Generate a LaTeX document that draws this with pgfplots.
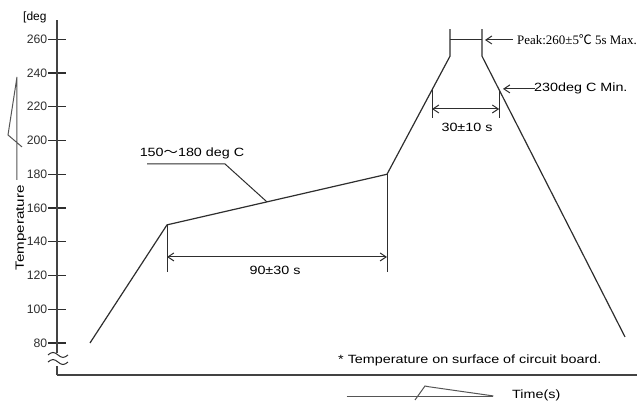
\documentclass[border=0pt]{standalone}
\usepackage{fontspec}
\setmainfont{Liberation Sans}
\newfontfamily\seriffont{Liberation Serif}
\newfontfamily\cjk{Noto Sans CJK SC}
\usepackage{pgfplots}
\pgfplotsset{compat=1.18}
\usetikzlibrary{arrows.meta}
\newcommand\sx[1]{\scalebox{1.2}[1]{#1}}
\definecolor{ink}{HTML}{2E2E2E}
\definecolor{faint}{HTML}{555555}
\begin{document}
\begin{tikzpicture}
\begin{axis}[
  x=1bp, y=1.687bp,
  xmin=0, xmax=580, ymin=61, ymax=271.5,
  axis x line=bottom, axis y line=left,
  axis line style={-, ink!90, line width=1.1bp},
  xtick=\empty,
  ytick={80,100,...,260},
  tick align=center,
  major tick length=17bp,
  ytick style={ink, line width=1.1bp},
  yticklabel style={font=\fontsize{12.3}{14}\selectfont, text=ink, anchor=east, inner sep=0pt, xshift=-1bp},
  /pgf/number format/assume math mode=true,
  clip=false,
  every node/.append style={text=ink},
]
% reflow profile
\addplot[ink, line width=1.2bp] coordinates {(33,80) (110,150) (330,180) (393,250) (393,266)};
\addplot[ink, line width=1.2bp] coordinates {(425,266) (425,250) (568,83.6)};

% preheat dimension
\addplot[ink, line width=1bp] coordinates {(110,150) (110,122)};
\addplot[ink, line width=1bp] coordinates {(330,180) (330,122)};
\addplot[ink, line width=1bp, {Straight Barb[length=6bp,width=8bp]}-{Straight Barb[length=6bp,width=8bp]}] coordinates {(110,131) (330,131)};
\node[inner sep=0pt] at (axis cs:218,123.3) {\fontsize{12}{14}\selectfont\sx{90±30 s}};

% label leader
\addplot[ink, line width=1bp] coordinates {(90,186.1) (168,186.1) (210,163.6)};
\node[inner sep=0pt] at (axis cs:135,192.6) {\fontsize{12}{14}\selectfont\sx{150{\cjk ～}180 deg C}};

% 230 dimension
\addplot[ink, line width=1bp] coordinates {(375,230) (375,213.4)};
\addplot[ink, line width=1bp] coordinates {(442.2,230) (442.2,213.4)};
\addplot[ink, line width=1bp, {Straight Barb[length=6bp,width=8bp]}-{Straight Barb[length=6bp,width=8bp]}] coordinates {(375,218.7) (442.2,218.7)};
\node[inner sep=0pt] at (axis cs:410,208) {\fontsize{12}{14}\selectfont\sx{30±10 s}};
\addplot[ink, line width=1bp, {Straight Barb[length=6bp,width=8bp]}-] coordinates {(446,230.6) (478,230.6)};
\node[anchor=west, inner sep=0pt] at (axis cs:477,230.6) {\fontsize{12}{14}\selectfont\sx{230deg C Min.}};

% peak
\addplot[ink, line width=1bp] coordinates {(393,259.6) (425,259.6)};
\addplot[ink, line width=1bp, {Straight Barb[length=6bp,width=8bp]}-] coordinates {(428,259.6) (456,259.6)};
\node[anchor=west, inner sep=0pt] at (axis cs:460,259.6) {\seriffont\fontsize{13}{15}\selectfont Peak:260±5{\cjk ℃} 5s Max.};

% footnote and labels
\node[anchor=west, inner sep=0pt] at (axis cs:281,69.9) {\fontsize{12}{14}\selectfont\sx{* Temperature on surface of circuit board.}};
\node[anchor=west, inner sep=0pt] at (axis cs:455,49.2) {\fontsize{12}{14}\selectfont\sx{Time(s)}};
\node[anchor=west, inner sep=0pt] at (axis cs:-34,273.2) {\fontsize{12}{14}\selectfont [deg};
\node[rotate=90, inner sep=0pt] at (axis cs:-36,148.2) {\fontsize{12}{14}\selectfont\scalebox{1.27}[1]{Temperature}};

% stray strokes
\addplot[faint, line width=1bp] coordinates {(-40,176.6) (-40,237.7) (-49,203.3) (-35,196.2)};
\addplot[faint, line width=1bp] coordinates {(289.7,48.2) (436.3,48.2)};
\addplot[faint, line width=1bp] coordinates {(358,46.2) (368,54.5) (371.3,54.1) (436.3,48.6)};

% axis break
\fill[white] (axis cs:-3,66.2) rectangle (axis cs:3,74.2);
\draw[ink, line width=1bp] ([xshift=-9bp]axis cs:0,72.9) sin +(5bp,2.5bp) cos +(5bp,-2.5bp) sin +(5bp,-2.5bp) cos +(5bp,2.5bp);
\draw[ink, line width=1bp] ([xshift=-9bp]axis cs:0,68.7) sin +(5bp,2.5bp) cos +(5bp,-2.5bp) sin +(5bp,-2.5bp) cos +(5bp,2.5bp);

\coordinate (bl) at (axis cs:-57,45.62);
\coordinate (tr) at (axis cs:585,283.3);
\end{axis}
\pgfresetboundingbox
\path[use as bounding box] (bl) rectangle (tr);
\end{tikzpicture}
\end{document}
